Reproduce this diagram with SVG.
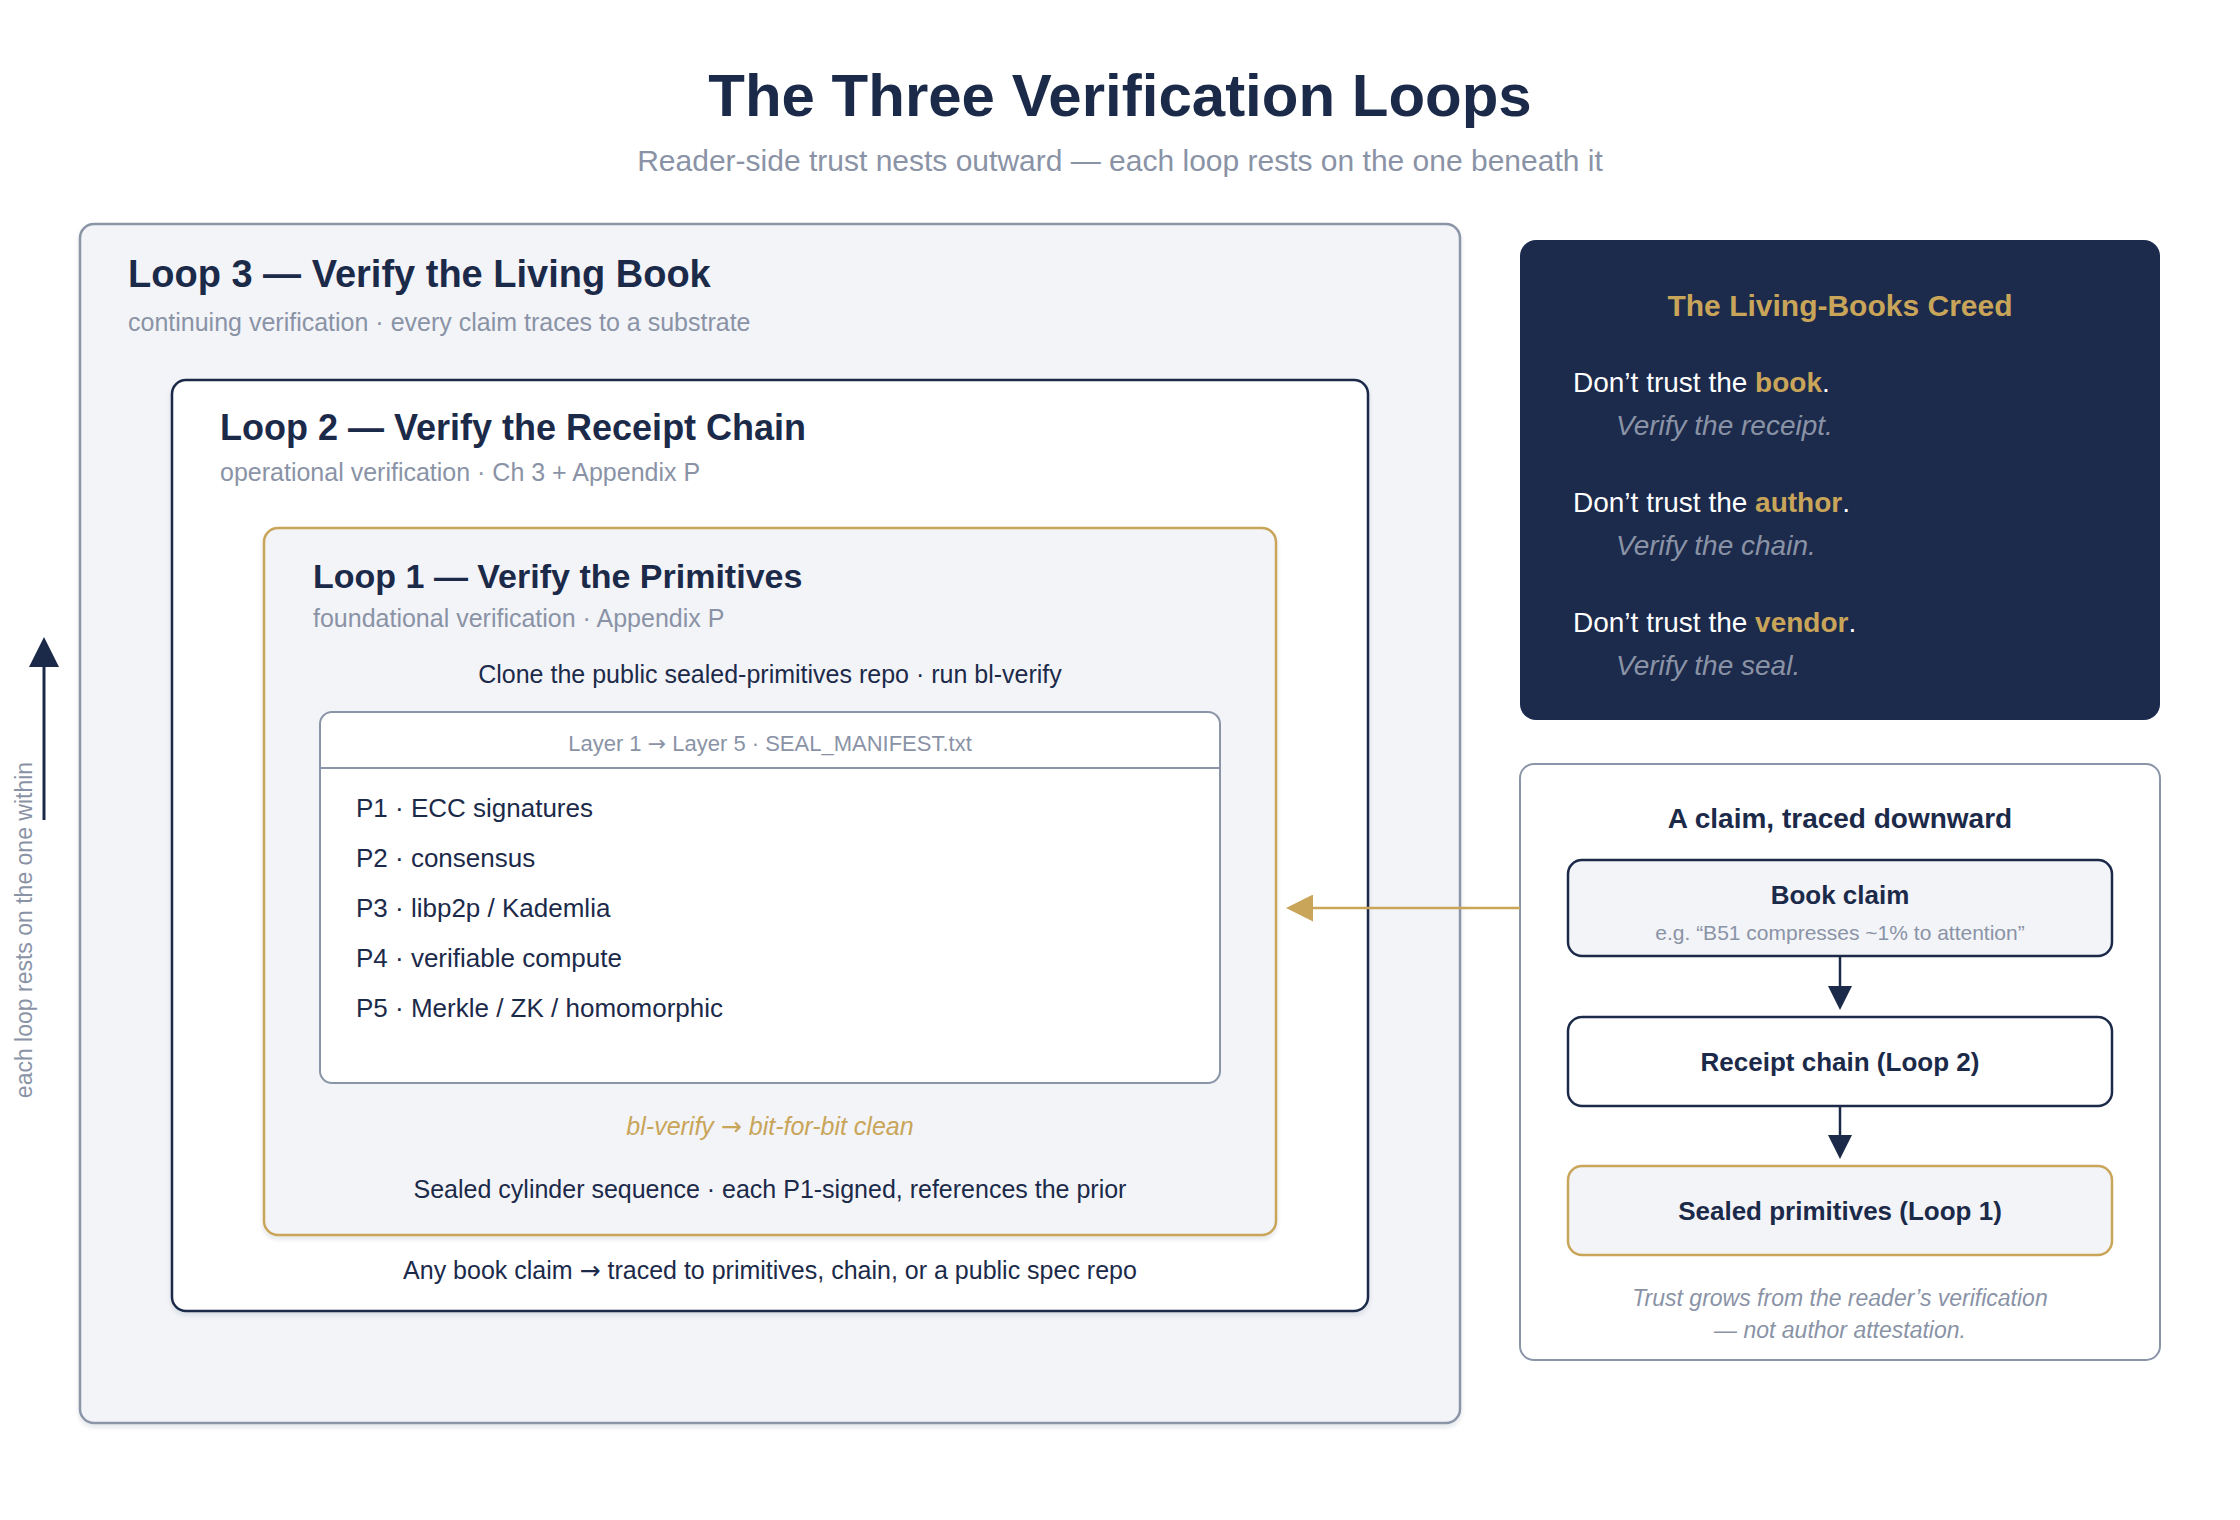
<svg xmlns="http://www.w3.org/2000/svg" width="2240" height="1520" viewBox="0 0 2240 1520">
<defs>
<style>
text{font-family:"Liberation Sans",Arial,Helvetica,sans-serif}
.arw{font-family:"DejaVu Sans",sans-serif}
.navy{fill:#1c2a4a}
.gray{fill:#8a93a6}
.gold{fill:#c9a55a}
.b{font-weight:bold}
.i{font-style:italic}
.mid{text-anchor:middle}
.ltitle{font-weight:bold;fill:#1c2a4a}
.lsub{font-size:25px;fill:#8a93a6}
.body{font-size:25px;fill:#1c2a4a}
.item{font-size:26px;fill:#1c2a4a}
.creed{font-size:28px;fill:#ffffff}
.creedv{font-size:28px;font-style:italic;fill:#8a93a6}
.boxlabel{font-size:26px;font-weight:bold;fill:#1c2a4a;text-anchor:middle}
</style>
<filter id="sh" x="-5%" y="-5%" width="110%" height="110%">
<feDropShadow dx="0" dy="3" stdDeviation="2" flood-color="#1c2a4a" flood-opacity="0.12"/>
</filter>
<marker id="hNavy" viewBox="0 0 10 10" refX="0" refY="5" markerUnits="userSpaceOnUse" markerWidth="24" markerHeight="29" orient="auto">
<path d="M0,0 L10,5 L0,10 z" fill="#1c2a4a"/>
</marker>
<marker id="hNavyL" viewBox="0 0 10 10" refX="0" refY="5" markerUnits="userSpaceOnUse" markerWidth="30" markerHeight="33" orient="auto">
<path d="M0,0 L10,5 L0,10 z" fill="#1c2a4a"/>
</marker>
<marker id="hGold" viewBox="0 0 10 10" refX="0" refY="5" markerUnits="userSpaceOnUse" markerWidth="32" markerHeight="27" orient="auto">
<path d="M0,0 L10,5 L0,10 z" fill="#c9a55a"/>
</marker>
</defs>
<rect width="2240" height="1520" fill="#ffffff"/>

<g id="header">
<text x="1120" y="116" class="navy b mid" font-size="60">The Three Verification Loops</text>
<text x="1120" y="171" class="gray mid" font-size="30">Reader-side trust nests outward — each loop rests on the one beneath it</text>
</g>

<g id="loop3">
<rect x="80" y="224" width="1380" height="1199" rx="14" fill="#f3f4f8" stroke="#8b95a8" stroke-width="2.5" filter="url(#sh)"/>
<text x="128" y="287" class="ltitle" font-size="38">Loop 3 — Verify the Living Book</text>
<text x="128" y="331" class="lsub">continuing verification · every claim traces to a substrate</text>
</g>

<g id="loop2">
<rect x="172" y="380" width="1196" height="931" rx="14" fill="#ffffff" stroke="#1c2a4a" stroke-width="2.5" filter="url(#sh)"/>
<text x="220" y="440" class="ltitle" font-size="36">Loop 2 — Verify the Receipt Chain</text>
<text x="220" y="481" class="lsub">operational verification · Ch 3 + Appendix P</text>
<text x="770" y="1279" class="body mid">Any book claim <tspan class="arw">→</tspan> traced to primitives, chain, or a public spec repo</text>
</g>

<g id="loop1">
<rect x="264" y="528" width="1012" height="707" rx="14" fill="#f3f4f8" stroke="#c9a55a" stroke-width="2.5" filter="url(#sh)"/>
<text x="313" y="588" class="ltitle" font-size="34">Loop 1 — Verify the Primitives</text>
<text x="313" y="627" class="lsub">foundational verification · Appendix P</text>
<text x="770" y="683" class="body mid">Clone the public sealed-primitives repo · run bl-verify</text>
<text x="770" y="1135" class="gold i mid" font-size="25">bl-verify <tspan class="arw">→</tspan> bit-for-bit clean</text>
<text x="770" y="1198" class="body mid">Sealed cylinder sequence · each P1-signed, references the prior</text>
</g>

<g id="manifest">
<rect x="320" y="712" width="900" height="371" rx="12" fill="#ffffff" stroke="#8b95a8" stroke-width="2"/>
<line x1="321" y1="768" x2="1219" y2="768" stroke="#8b95a8" stroke-width="2"/>
<text x="770" y="751" class="gray mid" font-size="22">Layer 1 <tspan class="arw">→</tspan> Layer 5 · SEAL_MANIFEST.txt</text>
<text x="356" y="817" class="item">P1 · ECC signatures</text>
<text x="356" y="867" class="item">P2 · consensus</text>
<text x="356" y="917" class="item">P3 · libp2p / Kademlia</text>
<text x="356" y="967" class="item">P4 · verifiable compute</text>
<text x="356" y="1017" class="item">P5 · Merkle / ZK / homomorphic</text>
</g>

<g id="creed">
<rect x="1520" y="240" width="640" height="480" rx="16" fill="#1c2a4b"/>
<text x="1840" y="316" class="gold b mid" font-size="30">The Living-Books Creed</text>
<text x="1573" y="392" class="creed">Don’t trust the <tspan class="gold b">book</tspan>.</text>
<text x="1616" y="435" class="creedv">Verify the receipt.</text>
<text x="1573" y="512" class="creed">Don’t trust the <tspan class="gold b">author</tspan>.</text>
<text x="1616" y="555" class="creedv">Verify the chain.</text>
<text x="1573" y="632" class="creed">Don’t trust the <tspan class="gold b">vendor</tspan>.</text>
<text x="1616" y="675" class="creedv">Verify the seal.</text>
</g>

<g id="claim-panel">
<rect x="1520" y="764" width="640" height="596" rx="14" fill="#ffffff" stroke="#8b95a8" stroke-width="2"/>
<text x="1840" y="828" class="navy b mid" font-size="28">A claim, traced downward</text>
<text x="1840" y="1306" class="gray i mid" font-size="23">Trust grows from the reader’s verification</text>
<text x="1840" y="1338" class="gray i mid" font-size="23">— not author attestation.</text>
</g>

<g id="book-claim">
<rect x="1568" y="860" width="544" height="96" rx="14" fill="#f3f4f8" stroke="#1c2a4a" stroke-width="2.5"/>
<text x="1840" y="904" class="boxlabel">Book claim</text>
<text x="1840" y="940" class="gray mid" font-size="21">e.g. “B51 compresses ~1% to attention”</text>
</g>

<g id="receipt-chain">
<rect x="1568" y="1017" width="544" height="89" rx="14" fill="#ffffff" stroke="#1c2a4a" stroke-width="2.5"/>
<text x="1840" y="1071" class="boxlabel">Receipt chain (Loop 2)</text>
</g>

<g id="sealed-primitives">
<rect x="1568" y="1166" width="544" height="89" rx="14" fill="#f3f4f8" stroke="#c9a55a" stroke-width="2.5"/>
<text x="1840" y="1220" class="boxlabel">Sealed primitives (Loop 1)</text>
</g>

<g id="nesting-note">
<text transform="translate(32,930) rotate(-90)" class="gray mid" font-size="23">each loop rests on the one within</text>
</g>

<g id="connectors">
<line x1="1840" y1="957" x2="1840" y2="986" stroke="#1c2a4a" stroke-width="2.5" marker-end="url(#hNavy)"/>
<line x1="1840" y1="1106" x2="1840" y2="1135" stroke="#1c2a4a" stroke-width="2.5" marker-end="url(#hNavy)"/>
<line x1="1520" y1="908" x2="1313" y2="908" stroke="#c9a55a" stroke-width="2.5" marker-end="url(#hGold)"/>
<line x1="44" y1="820" x2="44" y2="667" stroke="#1c2a4a" stroke-width="3" marker-end="url(#hNavyL)"/>
</g>
</svg>
